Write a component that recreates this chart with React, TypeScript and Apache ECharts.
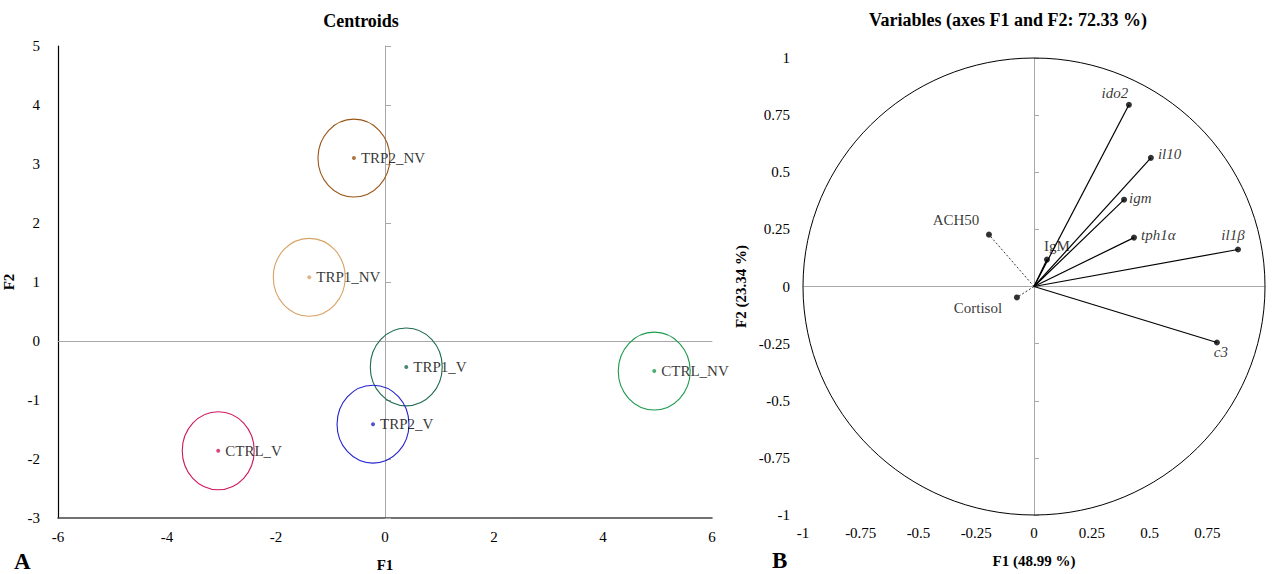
import React, { useEffect, useRef } from 'react';
import * as echarts from 'echarts';

// ---- Centroids (panel A) ----
const groups = ['TRP2_NV', 'TRP1_NV', 'TRP1_V', 'TRP2_V', 'CTRL_V', 'CTRL_NV'];
const groupF1 = [-0.57, -1.39, 0.39, -0.22, -3.06, 4.94];
const groupF2 = [3.1, 1.08, -0.44, -1.41, -1.86, -0.51];
const groupRadius = [0.66, 0.66, 0.66, 0.66, 0.66, 0.66];

// ---- Variables (panel B) ----
const variables = ['ido2', 'il10', 'igm', 'tph1α', 'il1β', 'IgM', 'ACH50', 'Cortisol', 'c3'];
const varF1 = [0.411, 0.506, 0.39, 0.433, 0.883, 0.056, -0.195, -0.074, 0.792];
const varF2 = [0.795, 0.563, 0.38, 0.214, 0.162, 0.118, 0.227, -0.048, -0.245];

// axis ranges / ticks
const leftX = { min: -6, max: 6, step: 2 };
const leftY = { min: -3, max: 5, step: 1 };
const rightAxis = { min: -1, max: 1, step: 0.25 };

// styles (kept separate from data)
const FONT = 'Liberation Serif, Times New Roman, serif';
const GRAY = '#a8a8a8';
const groupColors = ['#9A5516', '#D8A266', '#1E6A50', '#2323CC', '#D0185F', '#1E9A4E'];
const italicVars = new Set(['ido2', 'il10', 'igm', 'tph1α', 'il1β', 'c3']);
const dottedVars = new Set(['ACH50', 'Cortisol']);
const varLabelPlacement: Record<string, { position: string; offset: number[] }> = {
  ido2: { position: 'top', offset: [-14, 3] },
  il10: { position: 'right', offset: [0, -4] },
  igm: { position: 'right', offset: [-2, -2] },
  'tph1α': { position: 'right', offset: [0, -3] },
  'il1β': { position: 'top', offset: [-5, 0] },
  IgM: { position: 'top', offset: [10, 1] },
  ACH50: { position: 'top', offset: [-33, 0] },
  Cortisol: { position: 'bottom', offset: [-39, -4] },
  c3: { position: 'bottom', offset: [4, -5] },
};

const labelStyle = { color: '#000', fontSize: 15, fontFamily: FONT };
const nameStyle = { color: '#000', fontSize: 15, fontFamily: FONT, fontWeight: 'bold' as const };

function buildOption(): any {
  return {
    animation: false,
    backgroundColor: '#ffffff',
    textStyle: { fontFamily: FONT },
    grid: [
      { left: 58, top: 46, width: 654, height: 472, containLabel: false, outerBoundsMode: 'none' },
      { left: 803, top: 58, width: 462, height: 457, containLabel: false, outerBoundsMode: 'none' },
    ],
    xAxis: [
      {
        type: 'value', gridIndex: 0, min: leftX.min, max: leftX.max, interval: leftX.step, position: 'bottom',
        axisLine: { show: true, onZero: false, lineStyle: { color: '#444', width: 1.6 } },
        axisTick: { show: false }, splitLine: { show: false },
        axisLabel: { ...labelStyle, margin: 11 },
        name: 'F1', nameLocation: 'middle', nameGap: 39, nameTextStyle: nameStyle,
      },
      {
        type: 'value', gridIndex: 0, min: leftX.min, max: leftX.max, interval: leftX.step, position: 'top',
        axisLine: { show: true, onZero: true, onZeroAxisIndex: 0, lineStyle: { color: GRAY, width: 1 } },
        axisTick: { show: false }, axisLabel: { show: false }, splitLine: { show: false },
      },
      {
        type: 'value', gridIndex: 1, min: rightAxis.min, max: rightAxis.max, interval: rightAxis.step, position: 'bottom',
        axisLine: { show: false, onZero: false }, axisTick: { show: false }, splitLine: { show: false },
        axisLabel: { ...labelStyle, margin: 10, showMaxLabel: false },
        name: 'F1 (48.99 %)', nameLocation: 'middle', nameGap: 38, nameTextStyle: nameStyle,
      },
      {
        type: 'value', gridIndex: 1, min: rightAxis.min, max: rightAxis.max, interval: rightAxis.step, position: 'top',
        axisLine: { show: true, onZero: true, onZeroAxisIndex: 2, lineStyle: { color: GRAY, width: 1 } },
        axisTick: { show: false }, axisLabel: { show: false }, splitLine: { show: false },
      },
    ],
    yAxis: [
      {
        type: 'value', gridIndex: 0, min: leftY.min, max: leftY.max, interval: leftY.step, position: 'left',
        axisLine: { show: true, onZero: false, lineStyle: { color: '#000', width: 1.2 } },
        axisTick: { show: false }, splitLine: { show: false },
        axisLabel: { ...labelStyle, margin: 18 },
        name: 'F2', nameLocation: 'middle', nameGap: 41, nameTextStyle: nameStyle,
      },
      {
        type: 'value', gridIndex: 0, min: leftY.min, max: leftY.max, interval: leftY.step, position: 'right',
        axisLine: { show: true, onZero: true, onZeroAxisIndex: 0, lineStyle: { color: GRAY, width: 1 } },
        axisTick: { show: true, inside: false, length: 6, lineStyle: { color: GRAY } },
        axisLabel: { show: false }, splitLine: { show: false },
      },
      {
        type: 'value', gridIndex: 1, min: rightAxis.min, max: rightAxis.max, interval: rightAxis.step, position: 'left',
        axisLine: { show: false, onZero: false }, axisTick: { show: false }, splitLine: { show: false },
        axisLabel: { ...labelStyle, margin: 13 },
        name: 'F2 (23.34 %)', nameLocation: 'middle', nameGap: 55, nameTextStyle: nameStyle,
      },
      {
        type: 'value', gridIndex: 1, min: rightAxis.min, max: rightAxis.max, interval: rightAxis.step, position: 'right',
        axisLine: { show: true, onZero: true, onZeroAxisIndex: 2, lineStyle: { color: GRAY, width: 1 } },
        axisTick: { show: true, inside: false, length: 5, lineStyle: { color: GRAY } },
        axisLabel: { show: false }, splitLine: { show: false },
      },
    ],
    graphic: [
      { type: 'text', x: 361, y: 21, style: { text: 'Centroids', fontFamily: FONT, fontSize: 18, fontWeight: 'bold', fill: '#000', align: 'center', verticalAlign: 'middle' } },
      { type: 'text', x: 1008, y: 20, style: { text: 'Variables (axes F1 and F2: 72.33 %)', fontFamily: FONT, fontSize: 18, fontWeight: 'bold', fill: '#000', align: 'center', verticalAlign: 'middle' } },
      { type: 'text', x: 14, y: 561, style: { text: 'A', fontFamily: FONT, fontSize: 23, fontWeight: 'bold', fill: '#000', align: 'left', verticalAlign: 'middle' } },
      { type: 'text', x: 772, y: 560, style: { text: 'B', fontFamily: FONT, fontSize: 23, fontWeight: 'bold', fill: '#000', align: 'left', verticalAlign: 'middle' } },
    ],
    series: [
      // confidence circles around centroids
      {
        type: 'custom', xAxisIndex: 0, yAxisIndex: 0, silent: true, z: 2, clip: false,
        data: groups.map((g, i) => [groupF1[i], groupF2[i], groupRadius[i], i]),
        renderItem: (params: any, api: any) => {
          const c = api.coord([api.value(0), api.value(1)]);
          const s = api.size([api.value(2), api.value(2)]);
          const i = api.value(3);
          return {
            type: 'ellipse',
            shape: { cx: c[0], cy: c[1], rx: s[0], ry: s[1] },
            style: { fill: 'none', stroke: groupColors[i], lineWidth: 1.1 },
          };
        },
      },
      // centroid points
      {
        type: 'scatter', xAxisIndex: 0, yAxisIndex: 0, symbol: 'circle', symbolSize: 4, z: 3, silent: true,
        data: groups.map((g, i) => ({ name: g, value: [groupF1[i], groupF2[i]], itemStyle: { color: groupColors[i] } })),
        label: { show: true, position: 'right', distance: 5, formatter: '{b}', ...labelStyle },
      },
      // correlation circle
      {
        type: 'custom', xAxisIndex: 2, yAxisIndex: 2, silent: true, z: 2, clip: false,
        data: [[0, 0, 1]],
        renderItem: (params: any, api: any) => {
          const c = api.coord([api.value(0), api.value(1)]);
          const s = api.size([api.value(2), api.value(2)]);
          return {
            type: 'ellipse',
            shape: { cx: c[0], cy: c[1], rx: s[0], ry: s[1] },
            style: { fill: 'none', stroke: '#000', lineWidth: 1 },
          };
        },
      },
      // vectors
      {
        type: 'custom', xAxisIndex: 2, yAxisIndex: 2, silent: true, z: 3, clip: false,
        data: variables.map((v, i) => [varF1[i], varF2[i], i]),
        renderItem: (params: any, api: any) => {
          const o = api.coord([0, 0]);
          const p = api.coord([api.value(0), api.value(1)]);
          const name = variables[api.value(2)];
          const dotted = dottedVars.has(name);
          return {
            type: 'line',
            shape: { x1: o[0], y1: o[1], x2: p[0], y2: p[1] },
            style: { stroke: '#000', lineWidth: dotted ? 0.8 : 1.2, lineDash: dotted ? [2, 2] : null },
          };
        },
      },
      // variable points
      {
        type: 'scatter', xAxisIndex: 2, yAxisIndex: 2, symbol: 'circle', symbolSize: 6, z: 4, silent: true,
        itemStyle: { color: '#000' },
        data: variables.map((v, i) => ({
          name: v,
          value: [varF1[i], varF2[i]],
          label: {
            position: varLabelPlacement[v].position,
            offset: varLabelPlacement[v].offset,
            fontStyle: italicVars.has(v) ? 'italic' : 'normal',
          },
        })),
        label: { show: true, distance: 4, formatter: '{b}', ...labelStyle },
      },
    ],
  };
}

export default function App() {
  const ref = useRef<HTMLDivElement>(null);
  useEffect(() => {
    if (!ref.current) return;
    const chart = echarts.init(ref.current, undefined, { renderer: 'svg' });
    chart.setOption(buildOption());
    return () => chart.dispose();
  }, []);
  return (
    <div
      ref={ref}
      style={{ position: 'fixed', left: 0, top: 0, width: 1272, height: 574, background: '#fff' }}
    />
  );
}
